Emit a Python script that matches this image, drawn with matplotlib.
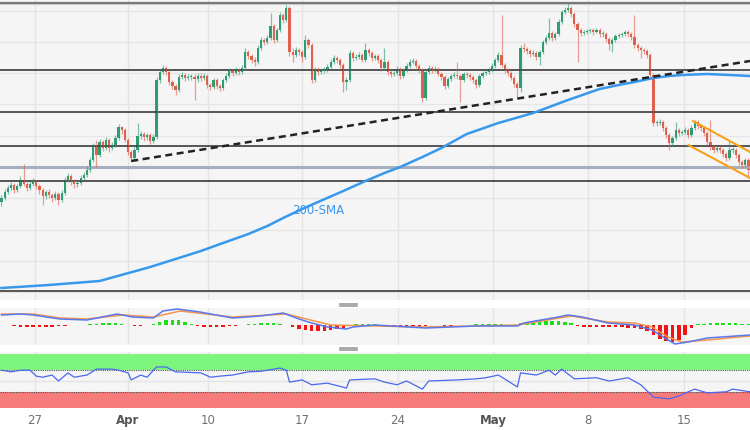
import numpy as np
import matplotlib.pyplot as plt
from matplotlib.lines import Line2D

# 4H candles, closes / highs / lows
close = [1802,1808,1812,1815,1810,1814,1820,1816,1812,1816,
         1818,1814,1810,1804,1808,1805,1802,1806,1800,1807,
         1820,1824,1819,1816,1817,1822,1825,1830,1840,1855,
         1845,1858,1852,1860,1852,1855,1862,1873,1870,1860,
         1848,1842,1850,1864,1866,1863,1865,1859,1863,1920,
         1928,1932,1928,1918,1914,1910,1923,1925,1922,1923,
         1923,1921,1924,1922,1924,1915,1913,1920,1914,1912,
         1920,1924,1929,1927,1930,1928,1932,1948,1944,1940,
         1938,1952,1960,1958,1962,1974,1960,1970,1985,1980,
         1992,1948,1945,1950,1948,1943,1960,1955,1920,1930,
         1928,1930,1930,1933,1938,1942,1940,1935,1918,1920,
         1947,1942,1943,1945,1940,1950,1947,1942,1944,1940,
         1932,1938,1928,1926,1927,1931,1924,1930,1934,1938,
         1939,1934,1930,1902,1928,1932,1930,1931,1926,1923,
         1914,1921,1924,1925,1924,1920,1926,1925,1923,1920,
         1915,1924,1927,1928,1930,1934,1940,1945,1935,1930,
         1927,1922,1916,1912,1952,1951,1949,1946,1947,1943,
         1948,1958,1962,1967,1962,1966,1978,1988,1990,1992,
         1986,1976,1970,1967,1968,1969,1970,1968,1970,1966,
         1966,1961,1956,1960,1964,1965,1966,1968,1966,1963,
         1955,1952,1950,1949,1945,1925,1877,1877,1878,1872,
         1865,1857,1862,1870,1867,1868,1870,1865,1872,1878,
         1874,1872,1867,1858,1853,1850,1852,1850,1846,1842,
         1850,1850,1845,1838,1835,1840,1830]
high = [1805,1811,1815,1818,1817,1816,1824,1836,1818,1819,
        1822,1820,1816,1812,1810,1811,1807,1809,1808,1810,
        1823,1827,1826,1821,1820,1825,1828,1834,1843,1857,
        1860,1861,1860,1863,1862,1858,1865,1876,1874,1872,
        1862,1850,1853,1877,1869,1868,1867,1867,1866,1923,
        1930,1935,1934,1930,1920,1916,1926,1928,1927,1926,
        1926,1926,1927,1927,1927,1926,1917,1922,1922,1916,
        1922,1927,1932,1931,1933,1932,1935,1952,1950,1946,
        1943,1955,1963,1962,1965,1987,1976,1972,1988,1987,
        1995,1994,1952,1953,1952,1950,1965,1962,1957,1933,
        1933,1932,1933,1936,1941,1945,1944,1942,1937,1923,
        1950,1949,1946,1948,1947,1957,1952,1949,1946,1946,
        1942,1952,1940,1930,1929,1934,1933,1932,1937,1941,
        1942,1941,1936,1932,1930,1935,1934,1934,1933,1928,
        1925,1923,1926,1928,1938,1926,1928,1928,1927,1925,
        1922,1926,1929,1930,1933,1937,1942,1948,1985,1937,
        1932,1929,1924,1918,1955,1957,1953,1951,1950,1949,
        1950,1960,1965,1982,1969,1968,1981,1990,1993,1997,
        1994,1988,1978,1972,1970,1971,1972,1972,1972,1972,
        1969,1968,1963,1962,1966,1967,1968,1970,1970,1968,
        1985,1957,1954,1952,1951,1947,1927,1880,1881,1880,
        1874,1867,1864,1878,1872,1870,1873,1872,1875,1880,
        1880,1876,1874,1869,1880,1855,1854,1854,1852,1848,
        1860,1853,1852,1847,1840,1842,1842]
low = [1794,1800,1806,1810,1807,1808,1812,1814,1809,1810,
       1814,1811,1806,1795,1801,1802,1798,1800,1795,1798,
       1805,1818,1815,1812,1813,1815,1820,1823,1828,1838,
       1833,1843,1849,1850,1848,1850,1853,1860,1866,1858,
       1845,1839,1840,1848,1861,1859,1860,1856,1857,1861,
       1917,1926,1925,1915,1911,1905,1908,1921,1919,1920,
       1920,1900,1918,1919,1920,1912,1910,1911,1911,1909,
       1910,1918,1922,1924,1925,1925,1926,1930,1941,1937,
       1934,1936,1950,1955,1956,1960,1957,1958,1968,1977,
       1978,1944,1938,1943,1945,1938,1941,1952,1917,1918,
       1925,1926,1927,1928,1931,1936,1937,1932,1908,1910,
       1918,1939,1940,1941,1938,1938,1944,1939,1940,1937,
       1929,1930,1925,1923,1924,1925,1921,1922,1928,1932,
       1936,1932,1927,1898,1900,1926,1927,1928,1924,1920,
       1911,1912,1919,1922,1921,1898,1918,1922,1920,1917,
       1912,1913,1922,1925,1926,1928,1932,1938,1933,1927,
       1924,1920,1913,1903,1908,1948,1946,1943,1944,1940,
       1935,1946,1956,1960,1959,1960,1964,1976,1986,1988,
       1983,1973,1938,1964,1965,1966,1967,1965,1967,1963,
       1963,1958,1950,1948,1958,1962,1963,1964,1963,1960,
       1952,1949,1942,1946,1942,1922,1874,1874,1875,1869,
       1862,1850,1854,1860,1864,1865,1866,1862,1863,1870,
       1871,1869,1864,1855,1850,1847,1848,1847,1843,1839,
       1840,1847,1842,1835,1832,1833,1823]
first_open = 1798

levels = [1930, 1888, 1854, 1819]
support = 1833
floor_line = 1709

sma_idx = [0, 15, 31, 39, 47, 55, 63, 70, 78, 84, 89, 95, 100, 108, 115, 121, 126, 133, 139, 147,
           157, 168, 179, 189, 195, 200, 206, 211, 215, 223, 230, 236.5]
sma_val = [1712, 1715, 1719, 1726, 1733, 1741, 1749, 1757, 1766, 1774, 1782, 1791, 1798, 1809, 1819, 1827,
           1833, 1843, 1852, 1866, 1877, 1887, 1900, 1911, 1915, 1918, 1922, 1924, 1925, 1926, 1925, 1924]

trend_idx = [41, 236.5]
trend_val = [1839, 1939]
chan_up_idx, chan_up_val = [218.5, 236.5], [1879, 1848]
chan_lo_idx, chan_lo_val = [217, 236.5], [1855, 1822]

macd_idx = [0, 6, 10, 18.5, 27, 36.5, 41.5, 48, 51, 55.5, 62.7, 73, 81.7, 89, 94, 98, 103, 109, 111, 118,
            134, 150, 163, 165, 176, 179, 183.5, 191.6, 200, 205.5, 209.6, 212.8, 217, 223, 236.5]
macd_val = [10, 11, 10, 6, 5, 11, 8, 7, 14, 16, 13, 7, 9, 12, 6, 2, -2, -4, -2, 0,
            -3, -1, -1, 2, 8, 10, 8, 2, 0, -5, -13, -19, -17, -13, -10]
sig_idx = [0, 10, 18.5, 27, 38.5, 48, 56.5, 73, 90, 104, 118, 134, 163, 180, 191.6, 200, 205.5, 210.6, 215, 223, 236.5]
sig_val = [11, 11, 7, 6, 10, 8, 14, 8, 11, 0, -1, -2, 0, 9, 3, 2, -2, -12, -17, -15, -11]
hist_val = [0.5, 0.5, -1, -1.5, -2, -2, -2, -2, -1.5, -1, -0.5, 0.3, 0.3, 0.5, 1, 1.5, 2, 2, 2, 1.5,
            0.5, -0.5, -0.5, -0.3, 1, 3, 5, 5.5, 5, 3.5, 1, -1, -1.5, -2, -2, -1.5, -1, -0.5, 0.3, 1,
            1.5, 2, 2, 2, 1.5, 0.5, -2, -4, -5, -6, -6, -5.5, -4.5, -3.5, -2.5, -1, 1, 1.5, 1.5, 1,
            -0.5, -1, -1.5, -2, -1.5, -1, -2, -1, 0.5, 0.5, -0.5, -0.5, 0.3, 0.5, 0.5, 1, 1.5, 1.5, 1.5, 1,
            0.5, -0.5, 2, 3, 3.5, 4, 4, 4, 4, 3.5, 2.5, -1, -1.5, -2, -2, -2, -2, -2, -2, -2.5,
            -3, -4, -6, -10, -14, -16, -17, -15, -10, -3, 1, 1.5, 2, 2, 2, 2, 2, 1.5, 1.5]

rsi_idx = [0, 3, 6, 9, 11, 13, 16, 18, 21, 23, 27, 30, 35, 37, 40, 41, 44, 46, 49, 52, 55, 63, 66, 69, 73,
           78, 82, 88, 90, 91, 95, 98, 103, 109, 110, 118, 121, 125, 128, 133, 135, 144, 150, 153, 157,
           160, 163, 164, 169, 173, 175, 177, 181, 188, 192, 198, 202, 206, 211, 214, 217, 219, 223, 229,
           231, 236.5]
rsi_val = [70, 67, 70, 70, 59, 57, 61, 50, 65, 57, 61, 72, 72, 70, 65, 52, 61, 57, 76, 76, 67, 65, 57, 59, 61,
           67, 68, 74, 70, 48, 52, 43, 46, 37, 52, 54, 48, 43, 50, 35, 50, 52, 54, 56, 61,
           50, 39, 65, 61, 70, 61, 72, 54, 56, 50, 56, 43, 20, 17, 22, 30, 35, 28, 30,
           35, 30]

tick_pos = [10.6, 40, 65.3, 95, 125.3, 155.3, 185.3, 215.6]
tick_lbl = ['27', 'Apr', '10', '17', '24', 'May', '8', '15']

n = len(close)
idx = np.arange(n)
opn = np.array([first_open] + close[:-1])
cls = np.array(close)
up = cls >= opn
green, red = '#2f9c74', '#e0604e'
xlim = (-0.47, 236.5)
bg = '#f5f5f5'

fig = plt.figure(figsize=(7.5, 4.3), dpi=100, facecolor='white')
ax = fig.add_axes([0, 130 / 430, 1, 300 / 430])
am = fig.add_axes([0, 85 / 430, 1, 37 / 430])
ar = fig.add_axes([0, 22 / 430, 1, 56 / 430])

for a in (ax, am, ar):
    a.set_facecolor(bg)
    a.set_xlim(*xlim)
    for s in a.spines.values():
        s.set_visible(False)
    a.set_xticks(tick_pos)
    a.tick_params(length=0, labelbottom=False, labelleft=False)
    a.grid(axis='x', color='#e4e4e4', lw=1)
    a.set_axisbelow(True)

# main panel
ax.set_ylim(1700, 2000)
ax.set_yticks(np.arange(1989.5, 1700, -31.3))
ax.grid(axis='y', color='#e6e6e6', lw=1)
ax.axhline(1997.3, color='#777777', lw=1.6)
ax.axhline(1995.8, color='#c8c8c8', lw=0.8)
for lv in levels:
    ax.axhline(lv, color='#3a3a3a', lw=1.2)
ax.axhline(support, color='#a6afc0', lw=2.2)
ax.axhline(floor_line, color='#3a3a3a', lw=1.2)

col = np.where(up, green, red)
ax.vlines(idx, low, high, colors=col, lw=0.9, alpha=0.6)
body = np.where(np.abs(cls - opn) < 0.8, 0.8, cls - opn)
ax.bar(idx, body, bottom=opn, width=0.7, color=col, lw=0)

ax.plot(sma_idx, sma_val, color='#3798ec', lw=1.8)
ax.text(100, 1790, '200-SMA', color='#3798ec', fontsize=8.5, ha='center', va='center')
ax.plot(trend_idx, trend_val, color='#222222', lw=1.8, dashes=(2.8, 1.8))
ax.plot(chan_up_idx, chan_up_val, color='#f7a11a', lw=1.5)
ax.plot(chan_lo_idx, chan_lo_val, color='#f7a11a', lw=1.5)

# macd panel
am.set_ylim(-20, 17)
am.set_yticks([])
hidx = np.arange(0, n, 2)
am.bar(hidx, hist_val, width=1.1, color=np.where(np.array(hist_val) >= 0, '#19e019', '#f01414'), lw=0)
am.plot(sig_idx, sig_val, color='#f5954a', lw=1.1)
am.plot(macd_idx, macd_val, color='#5a78ee', lw=1.1)

# rsi panel
ar.set_ylim(0, 103.7)
ar.set_yticks([50])
ar.grid(axis='y', color='#e4e4e4', lw=1)
ar.axhspan(70, 100, color='#7ef67e', lw=0)
ar.axhspan(0, 30, color='#f87b7b', lw=0)
ar.axhline(70, color='#555555', lw=0.8, ls=(0, (1, 1)))
ar.axhline(30, color='#555555', lw=0.8, ls=(0, (1, 1)))
ar.plot(rsi_idx, rsi_val, color='#4a68ee', lw=0.9)
ar.tick_params(labelbottom=True, pad=4, labelsize=8.5, labelcolor='#707070')
ar.set_xticklabels(tick_lbl)
for t in ar.get_xticklabels():
    if t.get_text() in ('Apr', 'May'):
        t.set_fontweight('bold')
        t.set_color('#555555')

# panel drag handles
for yy in (304.5, 348.5):
    for dy in (-1, 1):
        fig.add_artist(Line2D([340 / 750, 357 / 750], [1 - (yy + dy) / 430] * 2,
                              color='#9a9a9a', lw=1.2))

fig.savefig('out.png', dpi=100, facecolor='white')
